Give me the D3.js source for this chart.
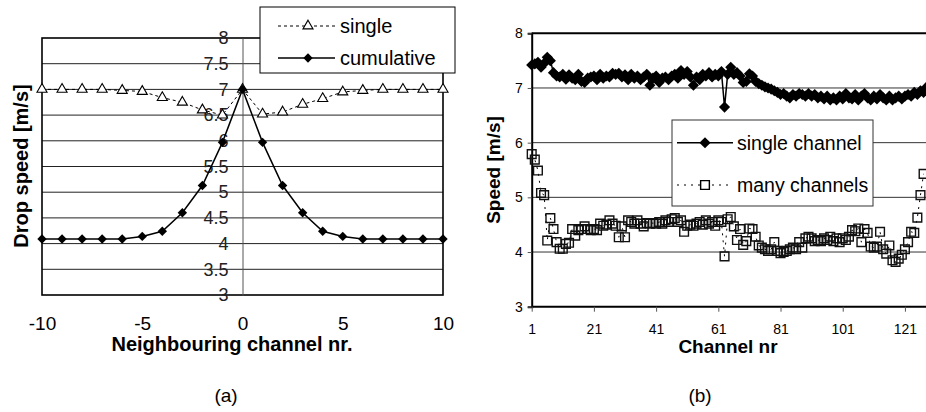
<!DOCTYPE html>
<html><head><meta charset="utf-8">
<script src="https://cdn.jsdelivr.net/npm/d3@7"></script>
<style>body{margin:0;background:#fff}svg{display:block}text{font-family:"Liberation Sans",Arial,sans-serif}</style>
</head><body>
<svg id="c" width="926" height="412"></svg>
<script>
// ---- Data (a) ----
const neighbourChannels = d3.range(-10, 11);
const singleSpeed = [7.0,7.0,7.0,7.0,6.98,6.96,6.84,6.75,6.6,6.5,7.0,6.52,6.56,6.71,6.82,6.95,6.98,7.0,7.0,7.0,7.0];
const cumulativeSpeed = [4.09,4.09,4.09,4.09,4.09,4.14,4.24,4.6,5.13,5.97,7.0,5.97,5.13,4.6,4.24,4.14,4.09,4.09,4.09,4.09,4.09];
const yTicksA = [3,3.5,4,4.5,5,5.5,6,6.5,7,7.5,8];
const xTicksA = [-10,-5,0,5,10];
const legendA = ["single","cumulative"];

// ---- Data (b) ----
const singleChannel = [7.42,7.44,7.47,7.38,7.45,7.56,7.50,7.28,7.22,7.20,7.25,7.16,7.24,7.18,7.15,7.25,7.12,7.10,7.18,7.20,
7.22,7.15,7.25,7.18,7.22,7.20,7.27,7.25,7.27,7.20,7.24,7.15,7.25,7.18,7.22,7.15,7.20,7.25,7.05,7.18,
7.22,7.10,7.18,7.20,7.15,7.22,7.25,7.18,7.32,7.25,7.30,7.20,7.05,7.20,7.15,7.25,7.22,7.28,7.20,7.25,
7.22,7.30,6.65,7.25,7.38,7.25,7.28,7.22,7.10,7.12,7.26,7.22,7.12,7.08,7.05,7.02,7.00,6.98,6.95,6.92,
6.88,6.90,6.85,6.82,6.88,6.85,6.90,6.88,6.85,6.90,6.85,6.88,6.82,6.85,6.80,6.85,6.78,6.82,6.78,6.85,
6.80,6.90,6.82,6.80,6.88,6.78,6.85,6.90,6.82,6.78,6.85,6.80,6.88,6.82,6.78,6.85,6.78,6.82,6.85,6.80,
6.85,6.88,6.85,6.92,6.88,6.95,6.92,7.02];
const manyChannels = [5.79,5.69,5.49,5.08,5.04,4.21,4.62,4.42,4.18,4.06,4.06,4.15,4.17,4.42,4.30,4.40,4.42,4.47,4.42,4.40,
4.42,4.40,4.52,4.48,4.50,4.58,4.52,4.48,4.27,4.47,4.27,4.58,4.55,4.52,4.58,4.52,4.47,4.53,4.52,4.53,
4.52,4.55,4.52,4.58,4.55,4.60,4.62,4.55,4.58,4.37,4.48,4.50,4.48,4.52,4.55,4.50,4.58,4.52,4.55,4.48,
4.58,4.55,3.92,4.60,4.64,4.47,4.22,4.42,4.13,4.20,4.43,4.42,4.28,4.12,4.08,4.05,4.02,4.05,4.18,4.02,
3.98,4.00,4.02,4.05,4.08,4.05,4.18,4.08,4.25,4.28,4.25,4.20,4.22,4.20,4.25,4.22,4.28,4.20,4.25,4.18,
4.25,4.22,4.28,4.40,4.38,4.43,4.18,4.42,4.35,4.10,4.08,4.10,4.37,4.05,3.97,4.12,3.85,3.82,3.88,3.95,
4.05,4.18,4.37,4.35,4.63,5.04,5.43];
const channels = d3.range(1, manyChannels.length + 2);
const yTicksB = [3,4,5,6,7,8];
const xTicksB = [1,21,41,61,81,101,121];
const legendB = ["single channel","many channels"];

const svg = d3.select("#c");
const plain = d => String(d);

// ================= Chart (a) =================
(function(){
  const g = svg.append("g");
  const x = d3.scaleLinear().domain([-10,10]).range([42,443]);
  const y = d3.scaleLinear().domain([3,8]).range([295,38]);
  g.selectAll("line.grid").data(yTicksA.filter(v=>v>3&&v<8)).join("line")
    .attr("x1",x(-10)).attr("x2",x(10)).attr("y1",d=>y(d)).attr("y2",d=>y(d))
    .attr("stroke","#222").attr("stroke-width",1);
  g.append("rect").attr("x",x(-10)).attr("y",y(8)).attr("width",x(10)-x(-10)).attr("height",y(3)-y(8))
    .attr("fill","none").attr("stroke","#000").attr("stroke-width",1.6);
  const ya = g.append("g").attr("transform",`translate(${x(0)},0)`)
    .call(d3.axisLeft(y).tickValues(yTicksA).tickSize(0).tickPadding(14).tickFormat(plain));
  ya.select(".domain").attr("stroke","#555").attr("stroke-width",1);
  ya.selectAll("text").attr("font-size",18).attr("fill","#222").attr("font-family","Liberation Sans, Arial, sans-serif");
  const xa = g.append("g").attr("transform",`translate(0,${y(3)})`)
    .call(d3.axisBottom(x).tickValues(xTicksA).tickSize(0).tickPadding(22).tickFormat(plain));
  xa.select(".domain").remove();
  xa.selectAll("text").attr("font-size",19).attr("fill","#000").attr("font-family","Liberation Sans, Arial, sans-serif");
  g.append("text").attr("x",232).attr("y",351).attr("text-anchor","middle")
    .attr("font-size",20).attr("font-weight","bold").text("Neighbouring channel nr.");
  g.append("text").attr("transform","translate(28,166) rotate(-90)").attr("text-anchor","middle")
    .attr("font-size",20).attr("font-weight","bold").text("Drop speed [m/s]");
  const line = d3.line().x((d,i)=>x(neighbourChannels[i])).y(d=>y(d));
  g.append("path").datum(singleSpeed).attr("d",line).attr("fill","none")
    .attr("stroke","#000").attr("stroke-width",1).attr("stroke-dasharray","3,3");
  g.append("path").datum(cumulativeSpeed).attr("d",line).attr("fill","none")
    .attr("stroke","#000").attr("stroke-width",1.5);
  const tri = d3.symbol().type(d3.symbolTriangle).size(44);
  g.selectAll("path.tri").data(singleSpeed).join("path").attr("class","tri")
    .attr("d",tri).attr("transform",(d,i)=>`translate(${x(neighbourChannels[i])},${y(d)})`)
    .attr("fill","#fff").attr("stroke","#000").attr("stroke-width",1.1);
  const dia = d3.symbol().type(d3.symbolSquare).size(44);
  g.selectAll("path.dia").data(cumulativeSpeed).join("path").attr("class","dia")
    .attr("d",dia).attr("transform",(d,i)=>`translate(${x(neighbourChannels[i])},${y(d)}) rotate(45)`)
    .attr("fill","#000");
  const lg = g.append("g");
  lg.append("rect").attr("x",260).attr("y",7).attr("width",195).attr("height",66)
    .attr("fill","#fff").attr("stroke","#000").attr("stroke-width",1);
  const ly = [26,58];
  lg.append("line").attr("x1",278).attr("x2",335).attr("y1",ly[0]).attr("y2",ly[0])
    .attr("stroke","#000").attr("stroke-dasharray","3,3");
  lg.append("path").attr("d",tri).attr("transform",`translate(308,${ly[0]})`)
    .attr("fill","#fff").attr("stroke","#000").attr("stroke-width",1.1);
  lg.append("line").attr("x1",278).attr("x2",335).attr("y1",ly[1]).attr("y2",ly[1])
    .attr("stroke","#000").attr("stroke-width",1.5);
  lg.append("path").attr("d",dia).attr("transform",`translate(308,${ly[1]}) rotate(45)`).attr("fill","#000");
  lg.selectAll("text").data(legendA).join("text").attr("x",340).attr("y",(d,i)=>ly[i])
    .attr("dy","0.35em").attr("font-size",20).text(d=>d);
  svg.append("text").attr("x",226).attr("y",402).attr("text-anchor","middle")
    .attr("font-family","DejaVu Serif, Liberation Serif, serif").attr("font-size",19).text("(a)");
})();

// ================= Chart (b) =================
(function(){
  const g = svg.append("g");
  const x = d3.scaleLinear().domain([1,128]).range([531.7,926.7]);
  const y = d3.scaleLinear().domain([3,8]).range([306.7,33.3]);
  g.selectAll("line.grid").data(yTicksB.filter(v=>v>3&&v<8)).join("line")
    .attr("x1",x(1)).attr("x2",940).attr("y1",d=>y(d)).attr("y2",d=>y(d))
    .attr("stroke","#333").attr("stroke-width",1);
  g.append("line").attr("x1",x(1)).attr("x2",940).attr("y1",y(8)).attr("y2",y(8))
    .attr("stroke","#000").attr("stroke-width",2);
  const ya = g.append("g").attr("transform",`translate(${x(1)},0)`)
    .call(d3.axisLeft(y).tickValues(yTicksB).tickSize(4).tickPadding(5).tickFormat(plain));
  ya.select(".domain").attr("stroke","#000").attr("stroke-width",2);
  ya.selectAll(".tick line").attr("stroke","#555");
  ya.selectAll("text").attr("font-size",14).attr("fill","#000").attr("font-family","Liberation Sans, Arial, sans-serif");
  const xa = g.append("g").attr("transform",`translate(0,${y(3)})`)
    .call(d3.axisBottom(x).tickValues(xTicksB).tickSize(5).tickPadding(12).tickSizeOuter(0).tickFormat(plain));
  xa.select(".domain").attr("stroke","#000").attr("stroke-width",2).attr("d",`M${x(1)},0H940`);
  xa.selectAll(".tick line").attr("stroke","#555");
  xa.selectAll("text").attr("font-size",14).attr("fill","#000").attr("font-family","Liberation Sans, Arial, sans-serif");
  g.append("text").attr("x",728).attr("y",353).attr("text-anchor","middle")
    .attr("font-size",19).attr("font-weight","bold").text("Channel nr");
  g.append("text").attr("transform","translate(500,170) rotate(-90)").attr("text-anchor","middle")
    .attr("font-size",19).attr("font-weight","bold").text("Speed [m/s]");
  const line = d3.line().x((d,i)=>x(channels[i])).y(d=>y(d));
  g.append("path").datum(manyChannels).attr("d",line).attr("fill","none")
    .attr("stroke","#000").attr("stroke-width",1).attr("stroke-dasharray","2,5");
  const sq = d3.symbol().type(d3.symbolSquare).size(76);
  g.selectAll("path.sq").data(manyChannels).join("path").attr("class","sq")
    .attr("d",sq).attr("transform",(d,i)=>`translate(${x(channels[i])},${y(d)})`)
    .attr("fill","none").attr("stroke","#111").attr("stroke-width",1.4);
  g.append("path").datum(singleChannel).attr("d",line).attr("fill","none")
    .attr("stroke","#000").attr("stroke-width",1.5);
  const dia = d3.symbol().type(d3.symbolSquare).size(62);
  g.selectAll("path.dia").data(singleChannel).join("path").attr("class","dia")
    .attr("d",dia).attr("transform",(d,i)=>`translate(${x(channels[i])},${y(d)}) rotate(45)`)
    .attr("fill","#000");
  const lg = g.append("g");
  lg.append("rect").attr("x",672).attr("y",120).attr("width",201).attr("height",86)
    .attr("fill","#fff").attr("stroke","#333").attr("stroke-width",1);
  const ly = [142.7,185];
  lg.append("line").attr("x1",677).attr("x2",733).attr("y1",ly[0]).attr("y2",ly[0])
    .attr("stroke","#000").attr("stroke-width",1.5);
  lg.append("path").attr("d",dia).attr("transform",`translate(705,${ly[0]}) rotate(45)`).attr("fill","#000");
  lg.append("line").attr("x1",677).attr("x2",733).attr("y1",ly[1]).attr("y2",ly[1])
    .attr("stroke","#000").attr("stroke-dasharray","2,5");
  lg.append("path").attr("d",sq).attr("transform",`translate(705,${ly[1]})`)
    .attr("fill","#fff").attr("stroke","#000").attr("stroke-width",1.4);
  lg.selectAll("text").data(legendB).join("text").attr("x",737).attr("y",(d,i)=>ly[i])
    .attr("dy","0.35em").attr("font-size",19.5).text(d=>d);
  svg.append("text").attr("x",700).attr("y",402).attr("text-anchor","middle")
    .attr("font-family","DejaVu Serif, Liberation Serif, serif").attr("font-size",19).text("(b)");
})();
</script>
</body></html>
